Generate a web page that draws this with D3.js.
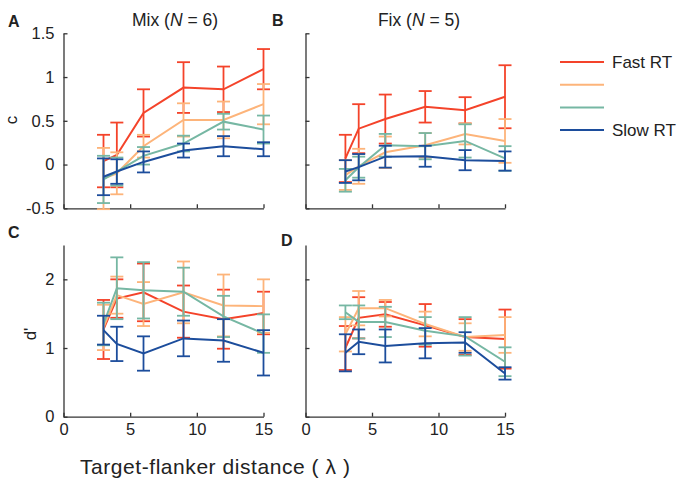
<!DOCTYPE html>
<html>
<head>
<meta charset="utf-8">
<script src="https://cdn.jsdelivr.net/npm/d3@7"></script>
<style>
	body { margin: 0; background: #fff; }
	svg text { font-family: "Liberation Sans", Arial, sans-serif; fill: #222; }
</style>
</head>
<body>
<script>
// distances cible-flanqueurs (lambda)
const distances = [3, 4, 6, 9, 12, 15];
const xTicks = [0, 5, 10, 15];
const seriesNames = ["Fast RT", "", "", "Slow RT"];
const seriesColors = ["#f4432a", "#fdb47a", "#76b7a3", "#1c4d9c"];

// critere c, condition Mix : fast, 2, 3, slow
const cMix = [
	[0.04, 0.11, 0.59, 0.88, 0.86, 1.09],
	[-0.16, -0.1, 0.21, 0.51, 0.51, 0.69],
	[-0.17, -0.08, 0.1, 0.24, 0.49, 0.4],
	[-0.14, -0.08, 0.03, 0.16, 0.21, 0.175]
];
const cMixErr = [
	[0.3, 0.37, 0.27, 0.29, 0.26, 0.23],
	[0.35, 0.24, 0.13, 0.19, 0.21, 0.23],
	[0.27, 0.16, 0.1, 0.09, 0.09, 0.16],
	[0.21, 0.14, 0.12, 0.08, 0.115, 0.08]
];

// critere c, condition Fix
const cFix = [
	[0.07, 0.41, 0.52, 0.66, 0.62, 0.775],
	[-0.12, -0.02, 0.14, 0.22, 0.35, 0.27],
	[-0.18, -0.03, 0.22, 0.21, 0.27, 0.07],
	[-0.08, -0.03, 0.09, 0.095, 0.05, 0.04]
];
const cFixErr = [
	[0.27, 0.28, 0.28, 0.18, 0.15, 0.36],
	[0.17, 0.2, 0.18, 0.14, 0.12, 0.25],
	[0.13, 0.12, 0.13, 0.15, 0.19, 0.14],
	[0.13, 0.15, 0.125, 0.12, 0.115, 0.11]
];

// d', condition Mix
const dMix = [
	[1.27, 1.72, 1.81, 1.53, 1.42, 1.51],
	[1.3, 1.77, 1.64, 1.81, 1.62, 1.61],
	[1.35, 1.87, 1.84, 1.82, 1.46, 1.21],
	[1.26, 1.06, 0.92, 1.14, 1.11, 0.93]
];
const dMixErr = [
	[0.43, 0.28, 0.42, 0.38, 0.43, 0.31],
	[0.33, 0.27, 0.32, 0.45, 0.45, 0.39],
	[0.31, 0.45, 0.41, 0.35, 0.3, 0.28],
	[0.21, 0.25, 0.25, 0.26, 0.31, 0.33]
];

// d', condition Fix
const dFix = [
	[1.0, 1.44, 1.49, 1.33, 1.16, 1.13],
	[1.2, 1.58, 1.58, 1.35, 1.16, 1.19],
	[1.52, 1.38, 1.38, 1.25, 1.17, 0.8],
	[0.93, 1.09, 1.03, 1.07, 1.08, 0.63]
];
const dFixErr = [
	[0.32, 0.3, 0.18, 0.31, 0.26, 0.43],
	[0.25, 0.25, 0.12, 0.18, 0.2, 0.26],
	[0.1, 0.24, 0.22, 0.2, 0.28, 0.21],
	[0.27, 0.18, 0.24, 0.22, 0.15, 0.09]
];

const cTicks = [-0.5, 0, 0.5, 1, 1.5];
const dTicks = [0, 1, 2];

const svg = d3.select("body").append("svg")
	.attr("width", 680)
	.attr("height", 481);

const panneaux = [
	{ lettre: "A", titre: "Mix", n: 6, moy: cMix, err: cMixErr, dom: [-0.5, 1.5], ticks: cTicks,
		left: 63.5, right: 263.5, top: 33.3, bottom: 208.3, yLab: true, xLab: false, lx: 8, ly: 27, tx: 175 },
	{ lettre: "B", titre: "Fix", n: 5, moy: cFix, err: cFixErr, dom: [-0.5, 1.5], ticks: cTicks,
		left: 305.5, right: 505, top: 33.3, bottom: 208.3, yLab: false, xLab: false, lx: 272, ly: 26, tx: 419 },
	{ lettre: "C", moy: dMix, err: dMixErr, dom: [0, 2.5], ticks: dTicks,
		left: 63.5, right: 263.5, top: 245, bottom: 416.7, yLab: true, xLab: true, lx: 8, ly: 238 },
	{ lettre: "D", moy: dFix, err: dFixErr, dom: [0, 2.5], ticks: dTicks,
		left: 305.5, right: 505, top: 245, bottom: 416.7, yLab: false, xLab: true, lx: 281, ly: 246 }
];

// format matlab : 1.5, 1, 0.5, 0, -0.5
const formatTick = (d) => String(d);

panneaux.forEach((p) => {
	const x = d3.scaleLinear().domain([0, 15]).range([p.left, p.right]);
	const y = d3.scaleLinear().domain(p.dom).range([p.bottom, p.top]);
	const g = svg.append("g");

	// axes (ticks vers l'interieur, style matlab)
	const axeY = d3.axisLeft(y).tickValues(p.ticks).tickSizeInner(-4).tickSizeOuter(0).tickPadding(9)
		.tickFormat(p.yLab ? formatTick : "");
	const axeX = d3.axisBottom(x).tickValues(xTicks).tickSizeInner(-4).tickSizeOuter(0).tickPadding(7)
		.tickFormat(p.xLab ? formatTick : "");

	const gy = g.append("g").attr("transform", `translate(${p.left},0)`).call(axeY);
	const gx = g.append("g").attr("transform", `translate(0,${p.bottom})`).call(axeX);
	[gx, gy].forEach((a) => {
		a.selectAll("path, line").attr("stroke", "#333").attr("stroke-width", 1.3);
		a.selectAll("text").style("font-size", "16.5px").attr("fill", "#222");
	});

	const ligne = d3.line()
		.x((d, i) => x(distances[i]))
		.y((d) => y(d));

	p.moy.forEach((serie, s) => {
		const col = seriesColors[s];
		const eb = g.append("g").attr("stroke", col).attr("stroke-width", 1.8).attr("fill", "none");
		serie.forEach((m, i) => {
			const e = p.err[s][i];
			const cx = x(distances[i]);
			eb.append("line").attr("x1", cx).attr("x2", cx).attr("y1", y(m - e)).attr("y2", y(m + e));
			eb.append("line").attr("x1", cx - 6.5).attr("x2", cx + 6.5).attr("y1", y(m - e)).attr("y2", y(m - e));
			eb.append("line").attr("x1", cx - 6.5).attr("x2", cx + 6.5).attr("y1", y(m + e)).attr("y2", y(m + e));
		});
		g.append("path")
			.datum(serie)
			.attr("d", ligne)
			.attr("fill", "none")
			.attr("stroke", col)
			.attr("stroke-width", 2);
	});

	g.append("text")
		.attr("x", p.lx)
		.attr("y", p.ly)
		.text(p.lettre)
		.style("font-size", "16px")
		.style("font-weight", "bold");

	if (p.titre) {
		const t = g.append("text")
			.attr("x", p.tx)
			.attr("y", 26)
			.attr("text-anchor", "middle")
			.style("font-size", "17.5px");
		t.append("tspan").text(p.titre + " (");
		t.append("tspan").style("font-style", "italic").text("N");
		t.append("tspan").text(" = " + p.n + ")");
	}
});

// etiquettes des axes
svg.append("text")
	.attr("transform", "translate(17,120) rotate(-90)")
	.attr("text-anchor", "middle")
	.style("font-size", "17px")
	.text("c");

svg.append("text")
	.attr("transform", "translate(36,334) rotate(-90)")
	.attr("text-anchor", "middle")
	.style("font-size", "17px")
	.text("d'");

svg.append("text")
	.attr("x", 80)
	.attr("y", 474)
	.attr("textLength", 270)
	.attr("lengthAdjust", "spacing")
	.style("font-size", "21px")
	.text("Target-flanker distance ( \u03bb )");

// legende
const legende = svg.append("g");
seriesNames.forEach((nom, i) => {
	const ly = 62 + i * 22.7;
	legende.append("line")
		.attr("x1", 560).attr("x2", 604)
		.attr("y1", ly).attr("y2", ly)
		.attr("stroke", seriesColors[i])
		.attr("stroke-width", 2);
	legende.append("text")
		.attr("x", 612)
		.attr("y", ly)
		.attr("dy", "0.35em")
		.style("font-size", "17px")
		.text(nom);
});
</script>
</body>
</html>
